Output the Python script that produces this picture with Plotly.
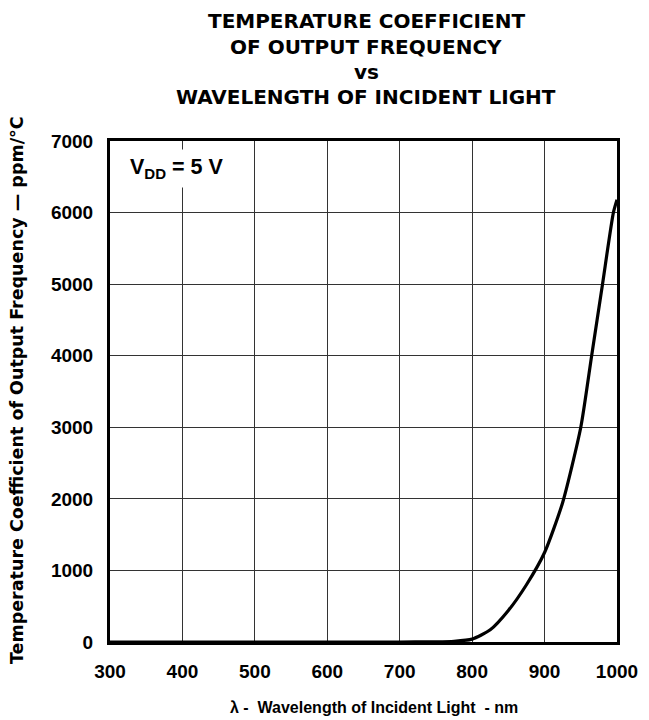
import plotly.graph_objects as go

wavelength_nm = [300, 700, 750, 775, 800, 825, 850, 875, 900, 925, 950, 965, 980, 995, 1000]
temp_coeff_ppm = [0, 0, 3, 10, 40, 170, 440, 800, 1250, 1950, 3000, 4000, 5000, 6000, 6180]

x_ticks = [300, 400, 500, 600, 700, 800, 900, 1000]
y_ticks = [0, 1000, 2000, 3000, 4000, 5000, 6000, 7000]

title_lines = ["TEMPERATURE COEFFICIENT", "OF OUTPUT FREQUENCY", "vs", "WAVELENGTH OF INCIDENT LIGHT"]

ARIAL = "Liberation Sans, Arial, sans-serif"
WIDE = "DejaVu Sans, Liberation Sans, sans-serif"

# page is offset by the default 8px body margin
OFF = 8
W, H = 649, 720
L, T = 110 - OFF, 141 - OFF
R = W + OFF - 617
B = H + OFF - 642
pw, ph = W - L - R, H - T - B


def px(xpage):
    return (xpage - OFF - L) / pw


def py(ypage):
    return (H - B - (ypage - OFF)) / ph


fig = go.Figure()
fig.add_trace(go.Scatter(
    x=wavelength_nm, y=temp_coeff_ppm, mode="lines",
    line=dict(color="black", width=3.2, shape="spline", smoothing=0.6),
    showlegend=False, hoverinfo="skip",
))

annotations = []
for txt, yy in zip(title_lines, [21, 47, 72, 97]):
    annotations.append(dict(
        text="<b>" + txt + "</b>", x=px(366), y=py(yy), xref="paper", yref="paper",
        showarrow=False, font=dict(family=WIDE, size=20, color="black"),
        xanchor="center", yanchor="middle", borderpad=0,
    ))

annotations.append(dict(
    text="<b>V<sub>DD</sub> = 5 V</b>", x=320, y=6620, xref="x", yref="y",
    showarrow=False, font=dict(family=ARIAL, size=21.5, color="black"),
    xanchor="left", yanchor="middle", bgcolor="white", borderpad=5,
))

annotations.append(dict(
    text="<b>λ -  Wavelength of Incident Light  - nm</b>", x=px(374), y=py(707),
    xref="paper", yref="paper", showarrow=False,
    font=dict(family=ARIAL, size=16, color="black"), xanchor="center", yanchor="middle",
    borderpad=0,
))
annotations.append(dict(
    text="<b>Temperature Coefficient of Output Frequency — ppm/°C</b>", x=px(17), y=py(390),
    xref="paper", yref="paper", showarrow=False, textangle=-90,
    font=dict(family=WIDE, size=17.5, color="black"), xanchor="center", yanchor="middle",
))

fig.update_layout(
    width=W, height=H,
    margin=dict(l=L, r=R, t=T, b=B),
    paper_bgcolor="white", plot_bgcolor="white",
    font=dict(family=ARIAL, color="black"),
    annotations=annotations,
    xaxis=dict(
        range=[300, 1000], tickvals=x_ticks,
        ticktext=["<b>%d</b>" % v for v in x_ticks],
        tickfont=dict(size=19, family=ARIAL, color="black"),
        showgrid=True, gridcolor="#333333", gridwidth=1,
        zeroline=False, showline=True, linecolor="black", linewidth=3, mirror=True,
        ticks="", ticklabelstandoff=10,
    ),
    yaxis=dict(
        range=[0, 7000], tickvals=y_ticks,
        ticktext=["<b>%d</b>" % v for v in y_ticks],
        tickfont=dict(size=19, family=ARIAL, color="black"),
        showgrid=True, gridcolor="#333333", gridwidth=1,
        zeroline=False, showline=True, linecolor="black", linewidth=3, mirror=True,
        ticks="", ticklabelstandoff=10,
    ),
)

fig.write_html("out.html")
